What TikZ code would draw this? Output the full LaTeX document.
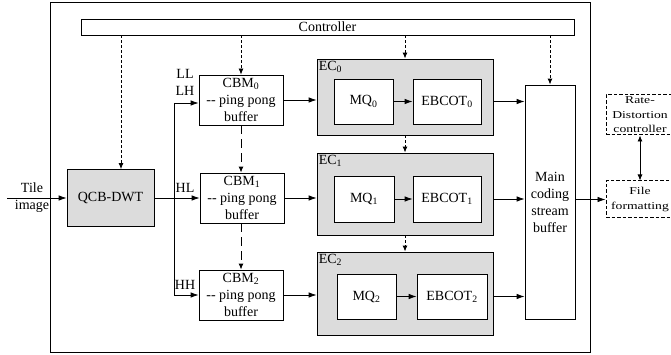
\documentclass[tikz,border=0pt]{standalone}
\usepackage{fontspec}
\setmainfont{Liberation Serif}
\newfontfamily\widefont{Liberation Serif}[FakeStretch=1.3]
\usetikzlibrary{arrows.meta,calc}
\definecolor{shade}{HTML}{DCDCDC}
\begin{document}
\begin{tikzpicture}[x=1pt,y=-1pt,
  font=\fontsize{14}{17}\selectfont,
  box/.style={draw, line width=0.8pt, rectangle, inner sep=0pt, align=center},
  gbox/.style={box, fill=shade},
  wbox/.style={box, fill=white},
  extbox/.style={draw, dash pattern=on 3.5pt off 2pt, line width=1pt, rectangle, inner sep=0pt, align=center,
    font=\widefont\fontsize{10.5}{14.5}\selectfont},
  lbl/.style={inner sep=0pt},
  ln/.style={line width=0.8pt},
  arr/.style={line width=0.8pt, -{Latex[length=8pt,width=5.5pt]}},
  dsh/.style={line width=1pt, dash pattern=on 3pt off 2pt, -{Latex[length=6pt,width=5pt]}},
  ldsh/.style={line width=1pt, dash pattern=on 9pt off 5pt, -{Latex[length=6pt,width=5pt]}},
  dbl/.style={line width=0.8pt, {Latex[length=6pt,width=5pt]}-{Latex[length=6pt,width=5pt]}}
]
\useasboundingbox (0,0) rectangle (671,355);

% outer frame
\node[box, minimum width=540pt, minimum height=350pt] (outer) at (320,177) {};

% controller
\node[box, minimum width=493pt, minimum height=16pt] (ctrl) at (327.5,27) {Controller};

% QCB-DWT
\node[gbox, minimum width=87pt, minimum height=57pt] (qcb) at (110.5,198) {QCB-DWT};

% CBMs
\node[wbox, minimum width=84pt, minimum height=50pt] (cbm0) at (241,100) {CBM\textsubscript{0}\\-{}- ping pong\\buffer};
\node[wbox, minimum width=84pt, minimum height=50pt] (cbm1) at (242,198) {CBM\textsubscript{1}\\-{}- ping pong\\buffer};
\node[wbox, minimum width=84pt, minimum height=50pt] (cbm2) at (241,295) {CBM\textsubscript{2}\\-{}- ping pong\\buffer};

% EC groups
\node[gbox, minimum width=176pt, minimum height=76pt] (ec0) at (405,97) {};
\node[gbox, minimum width=176pt, minimum height=82pt] (ec1) at (405,194) {};
\node[gbox, minimum width=176pt, minimum height=83pt] (ec2) at (405,293.5) {};
\node[anchor=north west, inner sep=2pt] (ec0l) at (ec0.north west) {EC\textsubscript{0}};
\node[anchor=north west, inner sep=2pt] (ec1l) at (ec1.north west) {EC\textsubscript{1}};
\node[anchor=north west, inner sep=2pt] (ec2l) at (ec2.north west) {EC\textsubscript{2}};

\node[wbox, minimum width=59pt, minimum height=45pt] (mq0) at (363.5,101.5) {MQ\textsubscript{0}};
\node[wbox, minimum width=68pt, minimum height=45pt] (eb0) at (447,101.5) {EBCOT\textsubscript{0}};
\node[wbox, minimum width=60pt, minimum height=46pt] (mq1) at (364,199) {MQ\textsubscript{1}};
\node[wbox, minimum width=68pt, minimum height=46pt] (eb1) at (447,199) {EBCOT\textsubscript{1}};
\node[wbox, minimum width=59pt, minimum height=45pt] (mq2) at (366.5,296.5) {MQ\textsubscript{2}};
\node[wbox, minimum width=70pt, minimum height=45pt] (eb2) at (452,296.5) {EBCOT\textsubscript{2}};

% main buffer
\node[wbox, minimum width=50pt, minimum height=234pt] (main) at (550,202) {Main\\coding\\stream\\buffer};

% external boxes
\node[extbox, minimum width=68pt, minimum height=40pt] (rd) at (640,115) {Rate-\\Distortion\\controller};
\node[extbox, minimum width=68pt, minimum height=37pt] (ff) at (640,199.5) {File\\formatting};

% input
\coordinate (tin) at (7,198);
\draw[arr] (tin) -- (qcb.west);
\node[lbl, align=center] (tl) at (32,198) {Tile\\image};

% subband labels
\node[lbl] (ll) at (185,74) {LL};
\node[lbl] (lh) at (185,91) {LH};
\node[lbl] (hl) at (185,188) {HL};
\node[lbl] (hh) at (185,285) {HH};

% controller dashed arrows
\coordinate (qx) at (121,0);
\draw[dsh, line width=0.8pt] (ctrl.south -| qx) -- (qcb.north -| qx);
\draw[dsh, line width=0.8pt] (ctrl.south -| cbm0.north) -- (cbm0.north);
\draw[dsh] (ctrl.south -| ec0.north) -- (ec0.north);
\draw[dsh] (ctrl.south -| main.north) -- (main.north);

% chained dashed arrows
\draw[ldsh] (cbm0.south) -- (cbm1.north -| cbm0.south);
\draw[ldsh] (cbm1.south -| cbm0.south) -- (cbm2.north);
\draw[dsh] (ec0.south) -- (ec1.north);
\draw[dsh] (ec1.south) -- (ec2.north);

% DWT distribution
\coordinate (sp) at (174,0);
\coordinate (a0) at ($(cbm0.west)+(0,3)$);
\draw[ln] (qcb.east) -- (qcb.east -| sp);
\draw[ln] (sp |- a0) -- (sp |- cbm2.west);
\draw[arr] (sp |- a0) -- (a0);
\draw[arr] (sp |- cbm1.west) -- (cbm1.west);
\draw[arr] (sp |- cbm2.west) -- (cbm2.west);

% CBM to EC
\draw[arr] (cbm0.east) -- (cbm0.east -| ec0.west);
\draw[arr] (cbm1.east) -- (cbm1.east -| ec1.west);
\draw[arr] (cbm2.east) -- (cbm2.east -| ec2.west);

% MQ to EBCOT
\draw[arr] (mq0.east) -- (eb0.west);
\draw[arr] (mq1.east) -- (eb1.west);
\draw[arr] (mq2.east) -- (eb2.west);

% EC to main
\draw[arr] (eb0.east -| ec0.east) -- (eb0.east -| main.west);
\draw[arr] (eb1.east -| ec1.east) -- (eb1.east -| main.west);
\draw[arr] (eb2.east -| ec2.east) -- (eb2.east -| main.west);

% main to file formatting
\draw[arr] (main.east |- ff.west) -- (ff.west);
\draw[dbl] (rd.south) -- (ff.north);
\end{tikzpicture}
\end{document}
